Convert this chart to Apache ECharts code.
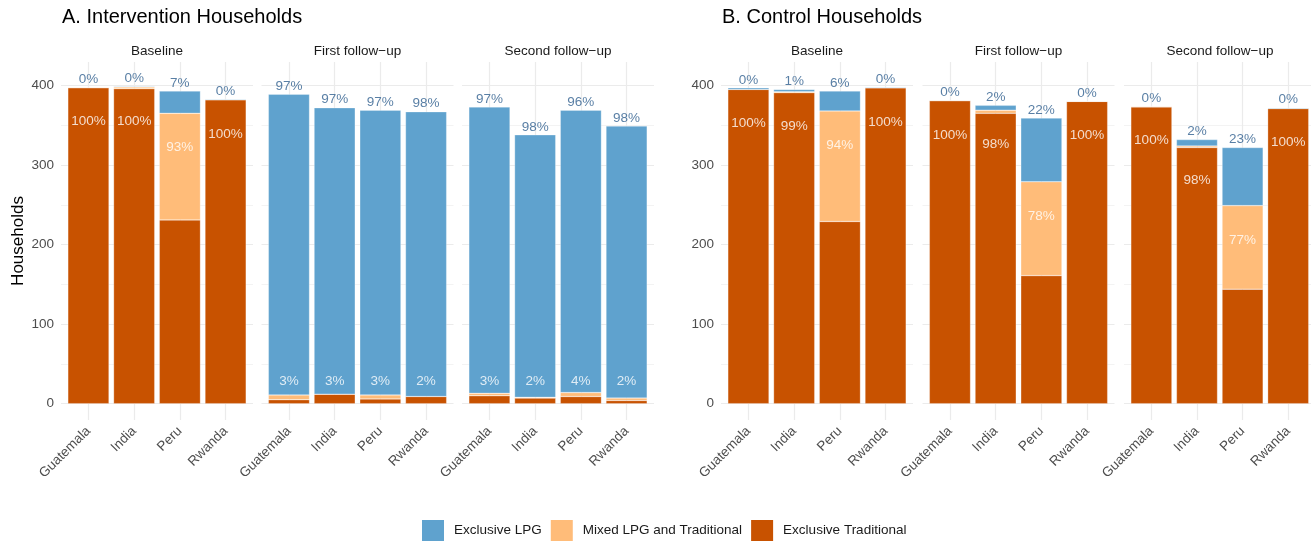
<!DOCTYPE html>
<html>
<head>
<meta charset="utf-8">
<script src="https://cdn.jsdelivr.net/npm/echarts@6/dist/echarts.min.js"></script>
<style>
html,body{margin:0;padding:0;background:#fff;}
#chart{width:1311px;height:542px;}
</style>
</head>
<body>
<div id="chart"></div>
<script>
// ---------------- DATA ----------------
const countries = ['Guatemala', 'India', 'Peru', 'Rwanda'];
const waves = ['Baseline', 'First follow\u2212up', 'Second follow\u2212up'];
const groupTitles = ['A. Intervention Households', 'B. Control Households'];
const legendNames = ['Exclusive LPG', 'Mixed LPG and Traditional', 'Exclusive Traditional'];
const yTickLabels = [0, 100, 200, 300, 400];
const yMinorTicks = [50, 150, 250, 350];

// Intervention households: [baseline, first follow-up, second follow-up] x countries
const intTraditional = [[397, 396, 231, 382], [5, 12, 6, 9], [10, 7, 9, 4]];
const intMixed       = [[1, 2, 134, 0], [6, 0, 5, 0], [3, 1, 5, 3]];
const intLPG         = [[0, 1, 28, 1], [378, 360, 358, 358], [360, 330, 355, 342]];
const intLpgPct      = [[0, 0, 7, 0], [97, 97, 97, 98], [97, 98, 96, 98]];
const intNonLpgPct   = [[100, 100, 93, 100], [3, 3, 3, 2], [3, 2, 4, 2]];

// Control households
const ctlTraditional = [[395, 391, 229, 397], [381, 365, 161, 380], [373, 322, 144, 371]];
const ctlMixed       = [[0, 1, 139, 0], [0, 4, 118, 0], [1, 2, 105, 0]];
const ctlLPG         = [[2, 3, 25, 1], [0, 6, 80, 0], [0, 8, 73, 1]];
const ctlLpgPct      = [[0, 1, 6, 0], [0, 2, 22, 0], [0, 2, 23, 0]];
const ctlNonLpgPct   = [[100, 99, 94, 100], [100, 98, 78, 100], [100, 98, 77, 100]];

// ---------------- STYLE / LAYOUT ----------------
const COL_LPG = '#5FA2CE', COL_MIX = '#FFBC79', COL_TRAD = '#C85200';
const FONT = "'Liberation Sans', Arial, Helvetica, sans-serif";
const panelLefts = [[61, 261.5, 462], [721, 922.5, 1124]];
const panelW = 192, panelTop = 62, panelH = 358;
const inset = panelW * 0.1 / 4.2;
const yMin = -20.5, yMax = 429.5;

const groups = [
  {trad: intTraditional, mix: intMixed, lpg: intLPG, lpgPct: intLpgPct, nonPct: intNonLpgPct},
  {trad: ctlTraditional, mix: ctlMixed, lpg: ctlLPG, lpgPct: ctlLpgPct, nonPct: ctlNonLpgPct}
];

const grids = [], xAxes = [], yAxes = [], series = [], graphics = [];

groups.forEach((g, gi) => {
  graphics.push({type: 'text', x: panelLefts[gi][0] + 1, y: 17.5,
    style: {text: groupTitles[gi], fontSize: 20, fontFamily: FONT, fill: '#000',
      align: 'left', textAlign: 'left', verticalAlign: 'middle', textVerticalAlign: 'middle'}});
  waves.forEach((w, wi) => {
    const left = panelLefts[gi][wi];
    graphics.push({type: 'text', x: left + panelW / 2, y: 51,
      style: {text: w, fontSize: 13.5, fontFamily: FONT, fill: '#1A1A1A',
        align: 'center', textAlign: 'center', verticalAlign: 'middle', textVerticalAlign: 'middle'}});

    // background grid (horizontal grid lines + y labels)
    const bg = grids.length;
    grids.push({left: left, top: panelTop, width: panelW, height: panelH});
    xAxes.push({gridIndex: bg, type: 'value', min: 0, max: 1, show: false});
    yAxes.push({gridIndex: bg, type: 'value', min: yMin, max: yMax,
      axisLine: {show: false}, axisTick: {show: false}, splitLine: {show: false},
      axisLabel: {show: wi === 0, color: '#4D4D4D', fontSize: 13.5, fontFamily: FONT, margin: 7,
        formatter: v => yTickLabels.includes(v) ? String(v) : ''}});
    series.push({type: 'scatter', xAxisIndex: bg, yAxisIndex: bg, data: [[0.5, 0]], symbolSize: 0, silent: true,
      markLine: {silent: true, symbol: 'none', z: 1, animation: false, label: {show: false},
        data: yTickLabels.map(v => ({yAxis: v, lineStyle: {color: '#EBEBEB', width: 1.2, type: 'solid'}}))
          .concat(yMinorTicks.map(v => ({yAxis: v, lineStyle: {color: '#F0F0F0', width: 0.8, type: 'solid'}})))}});

    // bar grid
    const bi = grids.length;
    grids.push({left: left + inset, top: panelTop, width: panelW - 2 * inset, height: panelH});
    xAxes.push({gridIndex: bi, type: 'category', data: countries,
      axisLine: {show: false, onZero: false}, axisTick: {show: false}, splitLine: {show: false},
      axisLabel: {interval: 0, rotate: 45, color: '#4D4D4D', fontSize: 13.5, fontFamily: FONT, margin: 9}});
    yAxes.push({gridIndex: bi, type: 'value', min: yMin, max: yMax, show: false});

    const stack = 's' + gi + '_' + wi;
    [['Exclusive Traditional', g.trad[wi], COL_TRAD],
     ['Mixed LPG and Traditional', g.mix[wi], COL_MIX],
     ['Exclusive LPG', g.lpg[wi], COL_LPG]].forEach(([name, arr, color]) => {
      series.push({type: 'bar', name: name, stack: stack, xAxisIndex: bi, yAxisIndex: bi,
        data: arr, barCategoryGap: '10%', silent: true, z: 2,
        itemStyle: {color: color, borderColor: 'rgba(255,255,255,0.55)', borderWidth: 0.5}});
    });

    const totals = countries.map((c, i) => g.trad[wi][i] + g.mix[wi][i] + g.lpg[wi][i]);
    const nonLpg = countries.map((c, i) => g.trad[wi][i] + g.mix[wi][i]);

    series.push({type: 'scatter', xAxisIndex: bi, yAxisIndex: bi, symbolSize: 0, silent: true, z: 3,
      data: countries.map((c, i) => [i, totals[i]]),
      label: {show: true, position: 'top', distance: 1, color: '#2F5F8F', fontSize: 13.5, fontFamily: FONT,
        formatter: p => g.lpgPct[wi][p.dataIndex] + '%'},
      markLine: {silent: true, symbol: 'none', z: 1, animation: false, label: {show: false},
        lineStyle: {color: '#EBEBEB', width: 1.2, type: 'solid'},
        data: countries.map(c => ({xAxis: c}))}});
    series.push({type: 'scatter', xAxisIndex: bi, yAxisIndex: bi, symbolSize: 0, silent: true, z: 3,
      data: countries.map((c, i) => [i, Math.max(nonLpg[i] - 43, 28)]),
      label: {show: true, position: 'inside', color: '#FFFFFF', fontSize: 13.5, fontFamily: FONT,
        formatter: p => g.nonPct[wi][p.dataIndex] + '%'}});
  });
});

graphics.push({type: 'text', x: 18, y: 241, rotation: Math.PI / 2,
  style: {text: 'Households', fontSize: 17, fontFamily: FONT, fill: '#000',
    align: 'center', textAlign: 'center', verticalAlign: 'middle', textVerticalAlign: 'middle'}});

const chart = echarts.init(document.getElementById('chart'), null, {renderer: 'canvas'});
chart.setOption({
  animation: false,
  backgroundColor: '#FFFFFF',
  textStyle: {fontFamily: FONT},
  grid: grids,
  xAxis: xAxes,
  yAxis: yAxes,
  legend: {data: legendNames, left: 422, top: 520, padding: 0, itemWidth: 22, itemHeight: 21, itemGap: 9,
    icon: 'rect', selectedMode: false,
    itemStyle: {borderWidth: 0},
    textStyle: {fontSize: 13.5, color: '#1A1A1A', fontFamily: FONT, padding: [0, 0, 0, 5]}},
  graphic: graphics,
  series: series
});
</script>
</body>
</html>
